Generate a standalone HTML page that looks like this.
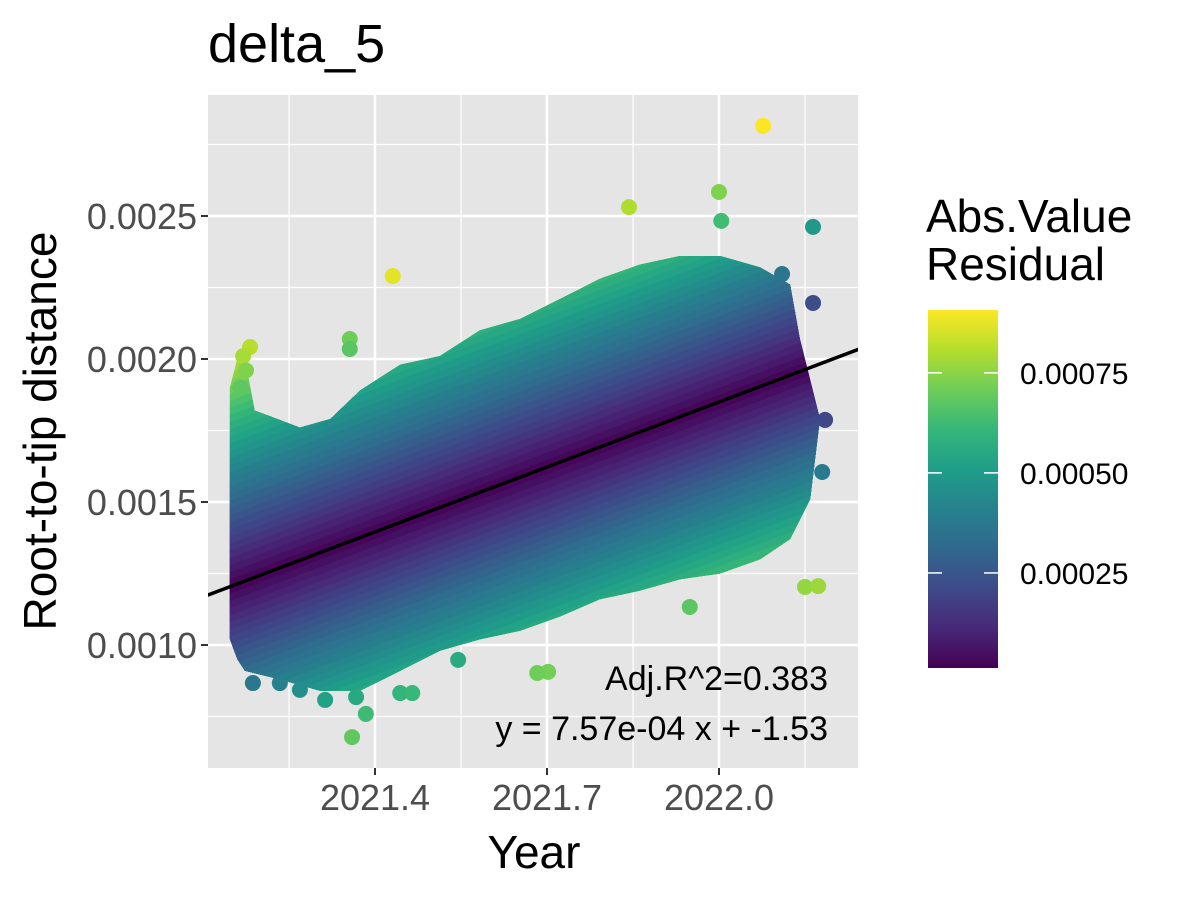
<!DOCTYPE html>
<html><head><meta charset="utf-8"><style>
body{margin:0;background:#fff;font-family:"Liberation Sans",sans-serif}
svg text{font-family:"Liberation Sans",sans-serif}
</style></head><body>
<svg id="chart" width="1200" height="900" viewBox="0 0 1200 900">
<text x="208" y="62" font-size="54" fill="#000">delta_5</text>
<rect x="208" y="95" width="650" height="673" fill="#e5e5e5"/>
<g id="grid"></g>
<defs><clipPath id="cloudClip"><polygon id="clipPoly"/></clipPath>
<clipPath id="panelClip"><rect x="208" y="95" width="650" height="673"/></clipPath>
<linearGradient id="vgrad" x1="0" y1="1" x2="0" y2="0"></linearGradient></defs>
<g id="cloud" clip-path="url(#cloudClip)"></g>
<g id="points"></g>
<g clip-path="url(#panelClip)"><line id="fit" stroke="#000" stroke-width="3.5"/></g>
<text x="828" y="690" font-size="34" text-anchor="end">Adj.R^2=0.383</text>
<text x="828" y="740" font-size="34" text-anchor="end">y = 7.57e-04 x + -1.53</text>
<g id="axes"></g>
<text x="534" y="868" font-size="46" text-anchor="middle">Year</text>
<text transform="translate(56,431) rotate(-90)" font-size="46" text-anchor="middle">Root-to-tip distance</text>
<text x="926" y="232" font-size="46">Abs.Value</text>
<text x="926" y="280" font-size="46">Residual</text>
<rect x="928" y="310" width="70" height="358" fill="url(#vgrad)"/>
<g id="legend"></g>
</svg>
<script>
const xTicks=[2021.4,2021.7,2022.0];
const xMinor=[2021.25,2021.55,2021.85,2022.15];
const yTicks=[0.0010,0.0015,0.0020,0.0025];
const yMinor=[0.00075,0.00125,0.00175,0.00225,0.00275];
const legendTicks=[0.00025,0.00050,0.00075];
const slope=7.57e-4;
const fitAnchorYear=2021.109, fitAnchorVal=0.001175;
const upperYears=[2021.147,2021.160,2021.173,2021.190,2021.217,2021.269,2021.322,2021.374,2021.444,2021.513,2021.583,2021.653,2021.723,2021.792,2021.862,2021.932,2022.002,2022.072,2022.124,2022.141,2022.176];
const upperVals=[0.00190,0.00200,0.00200,0.00182,0.00180,0.00176,0.00179,0.00189,0.00198,0.00201,0.00210,0.00214,0.00221,0.00228,0.00233,0.00236,0.00236,0.00232,0.00226,0.00207,0.00179];
const lowYears=[2021.147,2021.160,2021.173,2021.234,2021.304,2021.374,2021.444,2021.513,2021.583,2021.653,2021.723,2021.792,2021.862,2021.932,2022.002,2022.072,2022.124,2022.159,2022.176];
const lowVals=[0.00102,0.00095,0.00091,0.00088,0.00084,0.00084,0.00091,0.00098,0.00102,0.00105,0.00110,0.00116,0.00119,0.00123,0.00125,0.00130,0.00137,0.00151,0.00179];
const outYears=[2022.077,2021.431,2022.000,2022.004,2021.843,2022.164,2022.110,2022.164,2021.356,2021.356,2021.182,2021.367,2021.384,2021.360,2021.702,2021.683,2021.444,2021.465,2021.949,2022.150,2022.173,2022.180,2022.185,2021.545,2021.269,2021.313,2021.234,2021.187,2021.170,2021.175,2021.165];
const outVals=[0.002815,0.002290,0.002584,0.002483,0.002531,0.002462,0.002297,0.002196,0.002070,0.002035,0.002042,0.000818,0.000759,0.000678,0.000906,0.000902,0.000832,0.000832,0.001133,0.001203,0.001206,0.001605,0.001787,0.000948,0.000843,0.000808,0.000867,0.000867,0.002010,0.001960,0.001900];

const NS='http://www.w3.org/2000/svg';
const X=y=>375+(y-2021.4)*573.33;
const Y=v=>645-(v-0.0010)*286000;
const L=r=>668-(r-0.0000125)*(358/(0.000907-0.0000125));
const fitV=y=>fitAnchorVal+slope*(y-fitAnchorYear);
const vir=[[68,1,84],[72,40,120],[62,74,137],[49,104,142],[38,130,142],[31,158,137],[53,183,121],[109,205,89],[180,222,44],[253,231,37]];
function col(r){let t=(r-0.0000125)/(0.000907-0.0000125);t=Math.max(0,Math.min(1,t))*(vir.length-1);const i=Math.min(Math.floor(t),vir.length-2),f=t-i;const c=vir[i].map((a,k)=>Math.round(a+(vir[i+1][k]-a)*f));return `rgb(${c})`;}
function mk(tag,attrs,parent){const e=document.createElementNS(NS,tag);for(const k in attrs)e.setAttribute(k,attrs[k]);parent.appendChild(e);return e;}
const grid=document.getElementById('grid');
xMinor.forEach(v=>{const e=mk('line',{x1:X(v),x2:X(v),y1:95,y2:768,stroke:'#fff','stroke-width':1.2},grid);});
yMinor.forEach(v=>{const e=mk('line',{x1:208,x2:858,y1:Y(v),y2:Y(v),stroke:'#fff','stroke-width':1.2},grid);});
xTicks.forEach(v=>{const e=mk('line',{x1:X(v),x2:X(v),y1:95,y2:768,stroke:'#fff','stroke-width':2.5},grid);});
yTicks.forEach(v=>{const e=mk('line',{x1:208,x2:858,y1:Y(v),y2:Y(v),stroke:'#fff','stroke-width':2.5},grid);});
const pts=upperYears.map((y,i)=>X(y)+','+Y(upperVals[i])).concat(lowYears.slice().reverse().map((y,i)=>X(y)+','+Y(lowVals[lowYears.length-1-i])));
document.getElementById('clipPoly').setAttribute('points',pts.join(' '));
const cloud=document.getElementById('cloud');
for(let r=0.00085;r>0;r-=0.000025){
 const y0=2021.0,y1=2022.3;
 const p=[[y0,fitV(y0)+r],[y1,fitV(y1)+r],[y1,fitV(y1)-r],[y0,fitV(y0)-r]].map(q=>X(q[0])+','+Y(q[1])).join(' ');
 const e=mk('polygon',{points:p,fill:col(r)},cloud);
 
 
}
const pg=document.getElementById('points');
outYears.forEach((y,i)=>{const r=Math.abs(outVals[i]-fitV(y));const e=mk('circle',{cx:X(y),cy:Y(outVals[i]),r:8,fill:col(r)},pg);
 
 });
const f=document.getElementById('fit');
f.setAttribute('x1',X(2021.0));f.setAttribute('y1',Y(fitV(2021.0)));f.setAttribute('x2',X(2022.35));f.setAttribute('y2',Y(fitV(2022.35)));
const ax=document.getElementById('axes');
xTicks.forEach(v=>{const t=mk('line',{x1:X(v),x2:X(v),y1:768,y2:775,stroke:'#333','stroke-width':2},ax);
 const e=mk('text',{x:X(v),y:810,'font-size':36,fill:'#4d4d4d','text-anchor':'middle'},ax);e.textContent=v.toFixed(1);});
yTicks.forEach(v=>{const t=mk('line',{x1:201,x2:208,y1:Y(v),y2:Y(v),stroke:'#333','stroke-width':2},ax);
 const e=mk('text',{x:197,y:Y(v)+13,'font-size':36,fill:'#4d4d4d','text-anchor':'end'},ax);e.textContent=v.toFixed(4);});
const g=document.getElementById('vgrad');
vir.forEach((c,i)=>mk('stop',{offset:(i/(vir.length-1)),'stop-color':`rgb(${c})`},g));
const lg=document.getElementById('legend');
legendTicks.forEach(v=>{const y=L(v);
 let e=mk('line',{x1:928,x2:942,y1:y,y2:y,stroke:'#fff','stroke-width':1.5},lg);
 e=mk('line',{x1:984,x2:998,y1:y,y2:y,stroke:'#fff','stroke-width':1.5},lg);
 e=mk('text',{x:1020,y:y+11,'font-size':30,fill:'#000'},lg);e.textContent=v.toFixed(5);});
</script>
</body></html>
